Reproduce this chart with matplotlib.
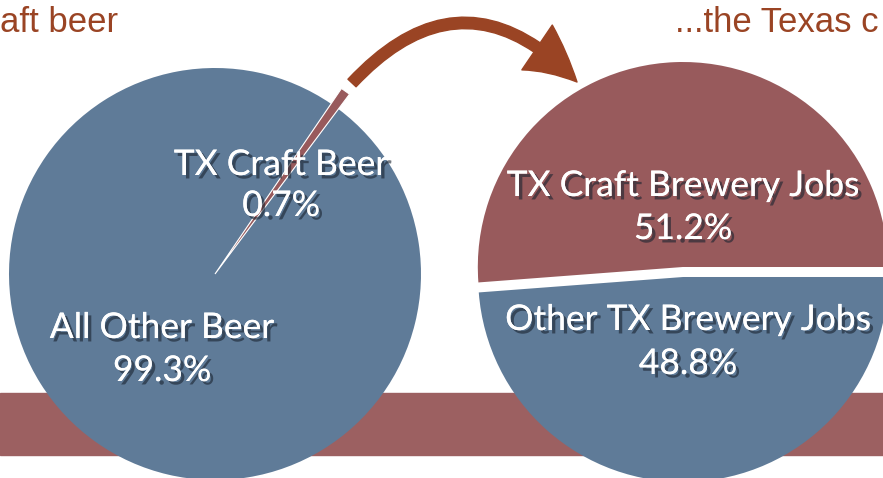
import matplotlib.pyplot as plt
import matplotlib.patheffects as pe
from matplotlib.patches import Rectangle, FancyArrowPatch, ArrowStyle

# data
beer_labels = ["TX Craft Beer", "All Other Beer"]
beer_share = [0.7, 99.3]
job_labels = ["TX Craft Brewery Jobs", "Other TX Brewery Jobs"]
job_share = [51.2, 48.8]

BLUE = "#5f7b98"
RED = "#985a5c"
BAND = "#9c6061"
TITLE = "#9a4424"
H = 478

fig = plt.figure(figsize=(8.83, 4.78), dpi=100)
ax = fig.add_axes([0, 0, 1, 1])


def reset_axes():
    ax.set_xlim(0, 883)
    ax.set_ylim(0, H)
    ax.set_aspect("equal")
    ax.axis("off")


# background band
ax.add_patch(Rectangle((0, H - 455), 883, 62, color=BAND, zorder=0))

shadow = [pe.withSimplePatchShadow(offset=(2.5, -2.5), shadow_rgbFace="#1a2330", alpha=0.6),
          pe.Normal()]
lab_kw = dict(color="white", fontsize=25.5, family="Lato", ha="center", va="center",
              path_effects=shadow, zorder=5)

# left pie
r1 = 206
w1, _ = ax.pie(beer_share, colors=[RED, BLUE], startangle=53.2, counterclock=True,
               center=(215, H - 274), radius=r1, frame=True,
               wedgeprops=dict(linewidth=0))
w1[0].set_radius(r1 * 1.09)
w1[0].set_edgecolor("white")
w1[0].set_linewidth(0.8)
w1[0].set_zorder(3)
reset_axes()

ax.text(281, H - 165, beer_labels[0], **lab_kw)
ax.text(281, H - 206, f"{beer_share[0]}%", **lab_kw)
ax.text(162, H - 328, beer_labels[1], **lab_kw)
ax.text(162, H - 371, f"{beer_share[1]}%", **lab_kw)

# right pie (explode is in data units here)
r2 = 205
ax.pie(job_share, colors=[RED, BLUE], startangle=0, counterclock=True,
       center=(683, H - 272), radius=r2, frame=True, explode=[5, 5],
       wedgeprops=dict(linewidth=0))
reset_axes()

ax.text(683, H - 186, job_labels[0], **lab_kw)
ax.text(683, H - 229, f"{job_share[0]}%", **lab_kw)
ax.text(688, H - 320, job_labels[1], **lab_kw)
ax.text(688, H - 364, f"{job_share[1]}%", **lab_kw)

# titles
ax.text(0, H - 22, "aft beer", color=TITLE, fontsize=25, family="Liberation Sans",
        ha="left", va="center")
ax.text(675, H - 22, "...the Texas c", color=TITLE, fontsize=25,
        family="Liberation Sans", ha="left", va="center")

# arrow
arrow = FancyArrowPatch((352, H - 83), (577, H - 82),
                        connectionstyle="arc3,rad=-0.53",
                        arrowstyle=ArrowStyle.Simple(head_length=3.8, head_width=3.9,
                                                     tail_width=0.8),
                        mutation_scale=10, color=TITLE, shrinkA=0, shrinkB=0,
                        zorder=4)
ax.add_patch(arrow)

fig.savefig("out.png", dpi=100)
